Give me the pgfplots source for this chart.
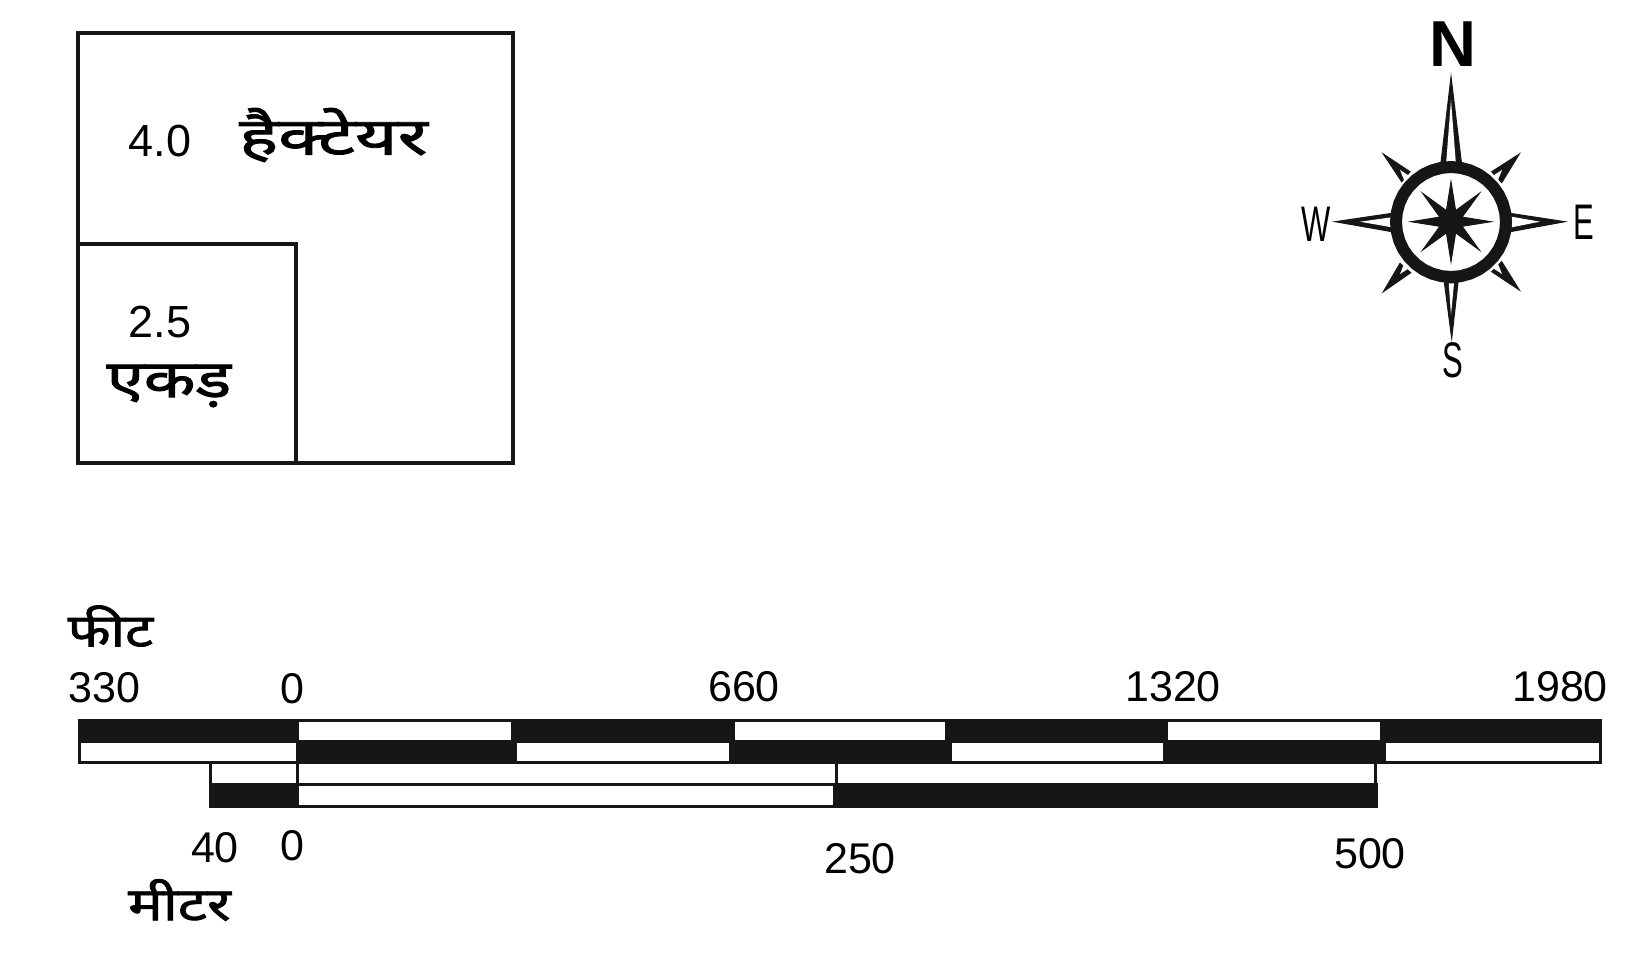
\documentclass[border=0pt]{standalone}
\usepackage{fontspec}
\setmainfont{Liberation Sans}
\newfontfamily\hindi[Script=Devanagari,FakeBold=1.6]{Noto Sans}
\usepackage{pgfplots}
\pgfplotsset{compat=1.18}
\definecolor{ink}{HTML}{161616}
\tikzset{
  num/.style={font=\fontsize{43}{48}\selectfont},
  big/.style={font=\fontsize{52}{58}\hindi},
  small/.style={font=\fontsize{46}{52}\hindi},
}
% axis units are reference pixels
\newcommand{\bx}[5]{\addplot[draw=ink,line width=3pt,fill=#1] coordinates {(#2,#4)(#3,#4)(#3,#5)(#2,#5)} -- cycle;}
\newcommand{\poly}[2]{\addplot[#1] coordinates {#2} -- cycle;}
\begin{document}
\begin{tikzpicture}
\begin{axis}[
    scale only axis,
    width=1649pt,
    height=964pt,
    xmin=0, xmax=1649,
    ymin=0, ymax=964,
    y dir=reverse,
    hide axis,
    clip=false,
    no markers,
    every node/.append style={text=ink,inner sep=0pt},
  ]
  \path (axis cs:0,0) rectangle (axis cs:1649,964);

  % area squares
  \poly{draw=ink,line width=4pt,line join=miter}{(78,33)(513,33)(513,463)(78,463)}
  \poly{draw=ink,line width=4pt,line join=miter}{(78,244)(295.5,244)(295.5,463)(78,463)}
  \node[num,font=\fontsize{45}{50}\selectfont] at (axis cs:160,141) {4.0};
  \node[big] at (axis cs:333.5,135) {\scalebox{1.41}[1]{हैक्टेयर}};
  \node[num,font=\fontsize{45}{50}\selectfont] at (axis cs:160,322) {2.5};
  \node[big] at (axis cs:169,386) {\scalebox{1.29}[1]{एकड़}};

  % feet scale, upper row
  \bx{ink}{79}{297}{720}{741}
  \bx{white}{297}{512}{720}{741}
  \bx{ink}{512}{733}{720}{741}
  \bx{white}{733}{946}{720}{741}
  \bx{ink}{946}{1166}{720}{741}
  \bx{white}{1166}{1381}{720}{741}
  \bx{ink}{1381}{1600}{720}{741}
  % feet scale, lower row
  \bx{white}{79}{297}{741}{762}
  \bx{ink}{297}{515}{741}{762}
  \bx{white}{515}{730}{741}{762}
  \bx{ink}{730}{950}{741}{762}
  \bx{white}{950}{1164}{741}{762}
  \bx{ink}{1164}{1384}{741}{762}
  \bx{white}{1384}{1600}{741}{762}
  % metre scale
  \bx{white}{210}{297}{762}{784}
  \bx{white}{297}{836}{762}{784}
  \bx{white}{836}{1375}{762}{784}
  \bx{ink}{210}{297}{784}{806}
  \bx{white}{297}{834}{784}{806}
  \bx{ink}{834}{1376}{784}{806}

  \node[small] at (axis cs:110.5,626) {\scalebox{1.21}[1]{फीट}};
  \node[num] at (axis cs:104.5,688) {330};
  \node[num] at (axis cs:292.5,689) {0};
  \node[num] at (axis cs:744,687) {660};
  \node[num] at (axis cs:1173,687) {1320};
  \node[num] at (axis cs:1560,687) {1980};
  \node[num] at (axis cs:215,848) {40};
  \node[num] at (axis cs:292.5,846) {0};
  \node[num] at (axis cs:860,859) {250};
  \node[num] at (axis cs:1370,854) {500};
  \node[small] at (axis cs:179.5,900) {\scalebox{1.26}[1]{मीटर}};

  % compass spikes
  \poly{draw=ink,line width=1pt,fill=ink}{(1440.7,165)(1451,76.7)(1461.7,165)}
  \poly{draw=none,fill=white}{(1446,165)(1451,100)(1456,165)}
  \poly{draw=ink,line width=1pt,fill=ink}{(1444,280)(1451.7,338.3)(1458.3,280)}
  \poly{draw=none,fill=white}{(1448.7,283.3)(1451,315)(1454,283.3)}
  \poly{draw=ink,line width=1pt,fill=ink}{(1392,213.3)(1335,221.7)(1392,231.7)}
  \poly{draw=none,fill=white}{(1391.7,217.3)(1360,221.7)(1391.7,227.3)}
  \poly{draw=ink,line width=1pt,fill=ink}{(1510,213.3)(1565,221.7)(1510,231.7)}
  \poly{draw=none,fill=white}{(1511.7,216.7)(1540,221.7)(1511.7,227.3)}
  \poly{draw=ink,line width=1pt,fill=ink}{(1410,171.7)(1383.3,154)(1401.7,181.7)}
  \poly{draw=none,fill=white}{(1400,170)(1409.3,176)(1404,180)}
  \poly{draw=ink,line width=1pt,fill=ink}{(1491.7,171.7)(1519.3,154)(1501.7,182.7)}
  \poly{draw=none,fill=white}{(1502,170)(1492.7,176)(1498,180)}
  \poly{draw=ink,line width=1pt,fill=ink}{(1501.7,261.7)(1519.3,290)(1491.7,271.7)}
  \poly{draw=none,fill=white}{(1502,274)(1492.7,268)(1498,264)}
  \poly{draw=ink,line width=1pt,fill=ink}{(1400,263.3)(1383.3,291.7)(1410.7,272.7)}
  \poly{draw=none,fill=white}{(1400,274)(1409.3,268)(1404,264)}
  % compass ring and star
  \poly{draw=ink,line width=12pt,line join=round}{(1506,222)(1505.16,231.55)(1502.68,240.81)(1498.63,249.5)(1493.13,257.35)(1486.35,264.13)(1478.5,269.63)(1469.81,273.68)(1460.55,276.16)(1451,277)(1441.45,276.16)(1432.19,273.68)(1423.5,269.63)(1415.65,264.13)(1408.87,257.35)(1403.37,249.5)(1399.32,240.81)(1396.84,231.55)(1396,222)(1396.84,212.45)(1399.32,203.19)(1403.37,194.5)(1408.87,186.65)(1415.65,179.87)(1423.5,174.37)(1432.19,170.32)(1441.45,167.84)(1451,167)(1460.55,167.84)(1469.81,170.32)(1478.5,174.37)(1486.35,179.87)(1493.13,186.65)(1498.63,194.5)(1502.68,203.19)(1505.16,212.45)}
  \poly{draw=ink,line width=1pt,fill=ink}{(1451,181.7)(1455.6,210.6)(1479.3,193.4)(1462.1,217.1)(1491,221.7)(1462.1,226.3)(1479.3,250)(1455.6,232.8)(1451,261.7)(1446.4,232.8)(1422.7,250)(1439.9,226.3)(1411,221.7)(1439.9,217.1)(1422.7,193.4)(1446.4,210.6)}

  \node[font=\fontsize{65}{70}\selectfont\bfseries] at (axis cs:1453,44) {N};
  \node[font=\fontsize{50}{55}\selectfont] at (axis cs:1453,360) {\scalebox{0.62}[1]{S}};
  \node[font=\fontsize{50}{55}\selectfont] at (axis cs:1316,224) {\scalebox{0.62}[1]{W}};
  \node[font=\fontsize{50}{55}\selectfont] at (axis cs:1584,222) {\scalebox{0.62}[1]{E}};
\end{axis}
\end{tikzpicture}
\end{document}
